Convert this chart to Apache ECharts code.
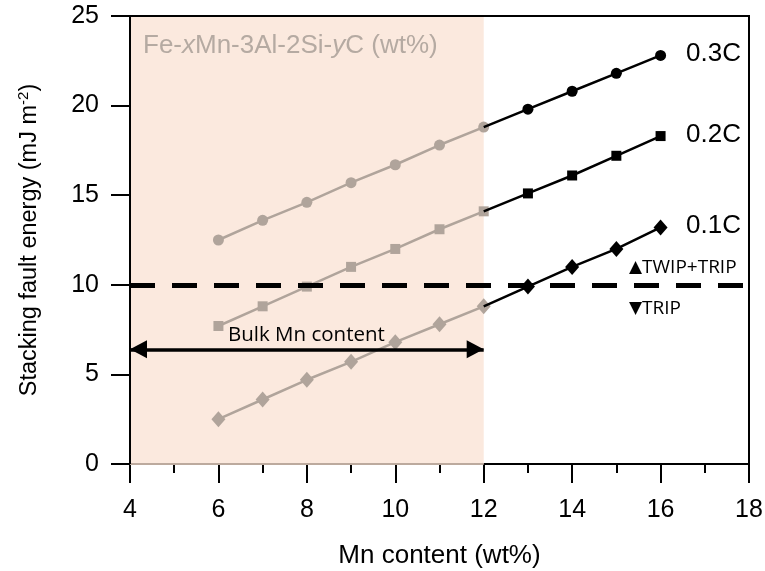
<!DOCTYPE html>
<html>
<head>
<meta charset="utf-8">
<script src="https://cdn.jsdelivr.net/npm/echarts@6/dist/echarts.min.js"></script>
<style>html,body{margin:0;padding:0;background:#fff}#c{width:765px;height:571px}</style>
</head>
<body>
<div id="c"></div>
<script>
// Data
const mnContent = [6, 7, 8, 9, 10, 11, 12, 13, 14, 15, 16];
const sfe03C = [12.5, 13.6, 14.6, 15.7, 16.7, 17.8, 18.8, 19.8, 20.8, 21.8, 22.8];
const sfe02C = [7.7, 8.8, 9.9, 11.0, 12.0, 13.1, 14.1, 15.1, 16.1, 17.2, 18.3];
const sfe01C = [2.5, 3.6, 4.7, 5.7, 6.8, 7.8, 8.8, 9.9, 11.0, 12.0, 13.2];
const seriesNames = ['0.3C', '0.2C', '0.1C'];
const bulkRange = [4, 12];   // bulk Mn content (shaded)
const thresholdSFE = 10;     // TWIP/TRIP boundary
const arrowY = 6.4;
const xTicks = [4, 6, 8, 10, 12, 14, 16, 18];
const yTicks = [0, 5, 10, 15, 20, 25];

const FONT = '"Liberation Sans", Arial, sans-serif';
const GRAY = '#b0a49b';
const PINK = '#fbe9de';

function pairs(xs, ys, from, to) {
  const out = [];
  for (let i = 0; i < xs.length; i++) {
    if (xs[i] >= from && xs[i] <= to) out.push([xs[i], ys[i]]);
  }
  return out;
}
function blackPart(ys) {
  return pairs(mnContent, ys, bulkRange[1], 100).map((p, i) =>
    i === 0 ? { value: p, symbolSize: 0 } : p);
}

const symbols = [
  { symbol: 'circle', size: 11 },
  { symbol: 'rect', size: 10 },
  { symbol: 'diamond', size: [14, 16] }
];
const allY = [sfe03C, sfe02C, sfe01C];

const series = [];
series.push({
  type: 'line', data: [], silent: true, z: 1,
  markArea: {
    silent: true,
    itemStyle: { color: PINK },
    data: [[{ coord: [bulkRange[0], yTicks[0]] }, { coord: [bulkRange[1], yTicks[yTicks.length - 1]] }]]
  },
  markLine: {
    silent: true, symbol: 'none', label: { show: false },
    lineStyle: { color: '#bcaa9e', width: 2, type: 'solid' },
    data: [[{ coord: [bulkRange[0], 0] }, { coord: [bulkRange[1], 0] }]]
  }
});
allY.forEach((ys, k) => {
  series.push({
    name: seriesNames[k] + ' bulk', type: 'line', z: 3,
    data: pairs(mnContent, ys, 0, bulkRange[1]),
    symbol: symbols[k].symbol, symbolSize: symbols[k].size,
    lineStyle: { color: GRAY, width: 2.5 }, itemStyle: { color: GRAY },
    showAllSymbol: true, animation: false
  });
  series.push({
    name: seriesNames[k], type: 'line', z: 4,
    data: blackPart(ys),
    symbol: symbols[k].symbol, symbolSize: symbols[k].size,
    lineStyle: { color: '#000', width: 2.5 }, itemStyle: { color: '#000' },
    showAllSymbol: true, animation: false
  });
});
series.push({
  type: 'line', data: [], silent: true, z: 5,
  markLine: {
    silent: true, animation: false, label: { show: false },
    data: [
      [{ coord: [xTicks[0], thresholdSFE], symbol: 'none', lineStyle: { color: '#000', width: 5, type: [25, 17], cap: 'butt' } },
       { coord: [xTicks[xTicks.length - 1], thresholdSFE], symbol: 'none' }],
      [{ coord: [bulkRange[0], arrowY], symbol: 'triangle', symbolSize: [18, 17], symbolOffset: [0, 8.5],
         lineStyle: { color: '#000', width: 3.5, type: 'solid' }, itemStyle: { color: '#000' } },
       { coord: [bulkRange[1], arrowY], symbol: 'triangle', symbolSize: [18, 17], symbolOffset: [0, 8.5] }]
    ]
  }
});
// frame lines on top (left axis line and top border drawn over the shading)
series.push({
  type: 'line', data: [], silent: true, z: 6,
  markLine: {
    silent: true, animation: false, label: { show: false }, symbol: 'none',
    lineStyle: { color: '#000', width: 2, type: 'solid' },
    data: [
      [{ coord: [xTicks[0], yTicks[0]] }, { coord: [xTicks[0], yTicks[yTicks.length - 1]] }],
      [{ coord: [xTicks[0], yTicks[yTicks.length - 1]] }, { coord: [xTicks[xTicks.length - 1], yTicks[yTicks.length - 1]] }]
    ]
  }
});

const tickStyle = { color: '#000', width: 2 };
const chart = echarts.init(document.getElementById('c'), null, { renderer: 'canvas' });
chart.setOption({
  animation: false,
  backgroundColor: '#fff',
  grid: { left: 130, right: 16, top: 16, bottom: 107, outerBoundsMode: 'none', containLabel: false,
    show: true, borderColor: '#000', borderWidth: 2, backgroundColor: 'transparent' },
  xAxis: {
    type: 'value', min: xTicks[0], max: xTicks[xTicks.length - 1], interval: 2,
    name: 'Mn content (wt%)', nameLocation: 'middle', nameGap: 79,
    nameTextStyle: { fontFamily: FONT, fontSize: 26, color: '#000' },
    axisLine: { show: true, onZero: false, lineStyle: { color: '#000', width: 2 } },
    axisTick: { show: true, inside: false, length: 19, lineStyle: tickStyle },
    minorTick: { show: true, splitNumber: 2, length: 9, lineStyle: tickStyle },
    axisLabel: { show: true, fontFamily: FONT, fontSize: 25, color: '#000', margin: 34 },
    splitLine: { show: false }
  },
  yAxis: {
    type: 'value', min: yTicks[0], max: yTicks[yTicks.length - 1], interval: 5,
    name: 'Stacking fault energy (mJ m{sup|-2})', nameLocation: 'middle', nameGap: 86, nameRotate: 90,
    nameTextStyle: { fontFamily: FONT, fontSize: 23.5, color: '#000',
      rich: { sup: { fontFamily: FONT, fontSize: 15, color: '#000', padding: [0, 0, 13, 0] } } },
    axisLine: { show: true, onZero: false, lineStyle: { color: '#000', width: 2 } },
    axisTick: { show: true, inside: false, length: 19, lineStyle: tickStyle },
    axisLabel: { show: true, fontFamily: FONT, fontSize: 25, color: '#000', margin: 31 },
    splitLine: { show: false }
  },
  graphic: [
    { type: 'text', left: 143, top: 33, z: 10, style: { text: '{n|Fe-}{i|x}{n|Mn-3Al-2Si-}{i|y}{n|C (wt%)}',
      rich: { n: { fontFamily: FONT, fontSize: 26, fill: '#b5aaa2' }, i: { fontFamily: FONT, fontSize: 26, fontStyle: 'italic', fill: '#b5aaa2' } } } },
    { type: 'text', left: 686, top: 41, z: 10, style: { text: '0.3C', font: '26px ' + FONT, fill: '#000' } },
    { type: 'text', left: 686, top: 122, z: 10, style: { text: '0.2C', font: '26px ' + FONT, fill: '#000' } },
    { type: 'text', left: 686, top: 213, z: 10, style: { text: '0.1C', font: '26px ' + FONT, fill: '#000' } },
    { type: 'text', left: 629, top: 258, z: 10, style: { text: '{t|▲}TWIP+TRIP', font: '19px "Open Sans", sans-serif', fill: '#000',
      rich: { t: { fontFamily: '"DejaVu Sans", sans-serif', fontSize: 17, fill: '#000' } } } },
    { type: 'text', left: 629, top: 299, z: 10, style: { text: '{t|▼}TRIP', font: '19px "Open Sans", sans-serif', fill: '#000',
      rich: { t: { fontFamily: '"DejaVu Sans", sans-serif', fontSize: 17, fill: '#000' } } } },
    { type: 'text', left: 228, top: 325, z: 10, style: { text: 'Bulk Mn content', font: '20.5px "Open Sans", sans-serif', fill: '#000' } }
  ],
  series: series
});
</script>
</body>
</html>
